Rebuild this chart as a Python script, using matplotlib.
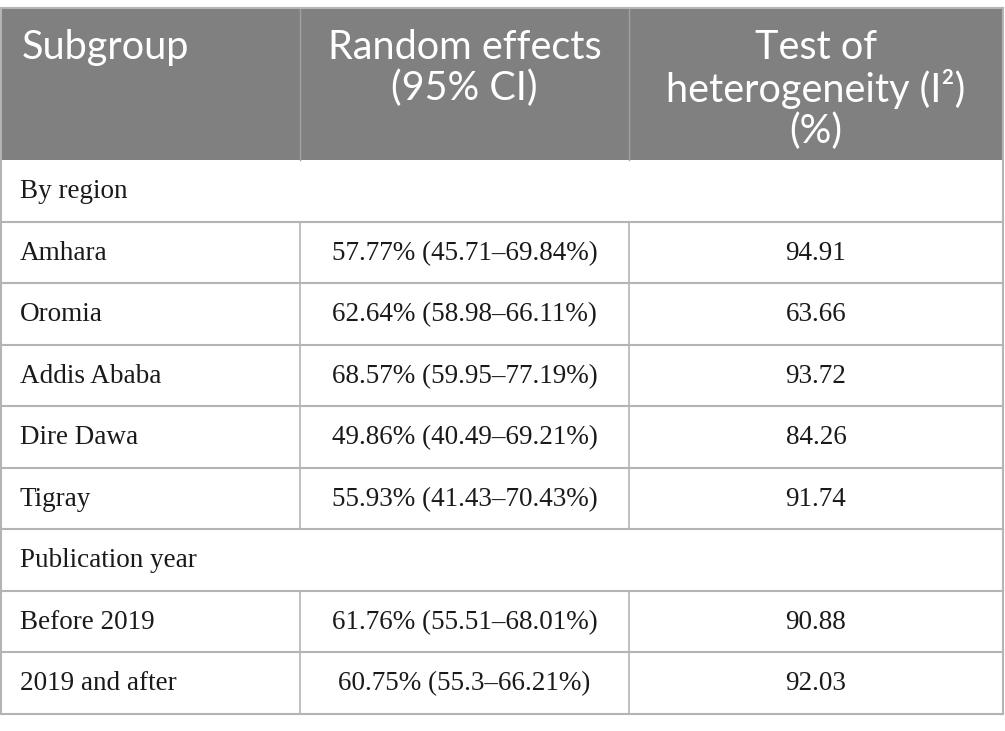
import matplotlib
matplotlib.use("Agg")
import matplotlib.pyplot as plt
from matplotlib.patches import Rectangle

# Table content
headers = ["Subgroup", "Random effects\n(95% CI)", "Test of\nheterogeneity (I\u00b2)\n(%)"]
rows = [
    ("By region", None, None),
    ("Amhara", "57.77% (45.71\u201369.84%)", "94.91"),
    ("Oromia", "62.64% (58.98\u201366.11%)", "63.66"),
    ("Addis Ababa", "68.57% (59.95\u201377.19%)", "93.72"),
    ("Dire Dawa", "49.86% (40.49\u201369.21%)", "84.26"),
    ("Tigray", "55.93% (41.43\u201370.43%)", "91.74"),
    ("Publication year", None, None),
    ("Before 2019", "61.76% (55.51\u201368.01%)", "90.88"),
    ("2019 and after", "60.75% (55.3\u201366.21%)", "92.03"),
]

W, H = 1005, 731
col_x = [1, 300, 629, 1003]
top, head_bot, row_h = 8, 160, 61.5
grid = "#b4b4b4"
head_bg = "#7f807f"

fig = plt.figure(figsize=(W / 100, H / 100), dpi=100)
ax = fig.add_axes([0, 0, 1, 1])
ax.set_xlim(0, W)
ax.set_ylim(H, 0)
ax.axis("off")

# header
ax.add_patch(Rectangle((col_x[0], top), col_x[-1] - col_x[0], head_bot - top,
                       facecolor=head_bg, edgecolor="none"))
hfont = dict(family=["Lato", "DejaVu Sans"], fontsize=28.5, color="white",
             va="top", linespacing=1.1)
ax.text(22, 29, headers[0], ha="left", **hfont)
ax.text((col_x[1] + col_x[2]) / 2, 29, headers[1], ha="center", **hfont)
ax.text((col_x[2] + col_x[3]) / 2, 29, headers[2], ha="center", **hfont)
ax.plot([col_x[1], col_x[1]], [top, head_bot], color="#a0a0a0", lw=1)
ax.plot([col_x[2], col_x[2]], [top, head_bot], color="#a0a0a0", lw=1)

# body
bfont = dict(family="Liberation Serif", fontsize=19.5, color="#1a1a1a", va="center")
bottom = head_bot + row_h * len(rows)
for i, (name, eff, het) in enumerate(rows):
    y0 = head_bot + i * row_h
    yc = y0 + row_h / 2 + 1
    ax.text(20, yc, name, ha="left", **bfont)
    if eff is not None:
        ax.text((col_x[1] + col_x[2]) / 2, yc, eff, ha="center", **bfont)
        ax.text((col_x[2] + col_x[3]) / 2, yc, het, ha="center", **bfont)
        ax.plot([col_x[1], col_x[1]], [y0, y0 + row_h], color=grid, lw=1.2)
        ax.plot([col_x[2], col_x[2]], [y0, y0 + row_h], color=grid, lw=1.2)
    ax.plot([col_x[0], col_x[-1]], [y0 + row_h, y0 + row_h], color=grid, lw=1.5)

# outer border
ax.plot([col_x[0], col_x[0]], [top, bottom], color=grid, lw=1.5)
ax.plot([col_x[-1], col_x[-1]], [top, bottom], color=grid, lw=1.5)
ax.plot([col_x[0], col_x[-1]], [top, top], color=grid, lw=1.5)

fig.savefig("out.png", dpi=100)
